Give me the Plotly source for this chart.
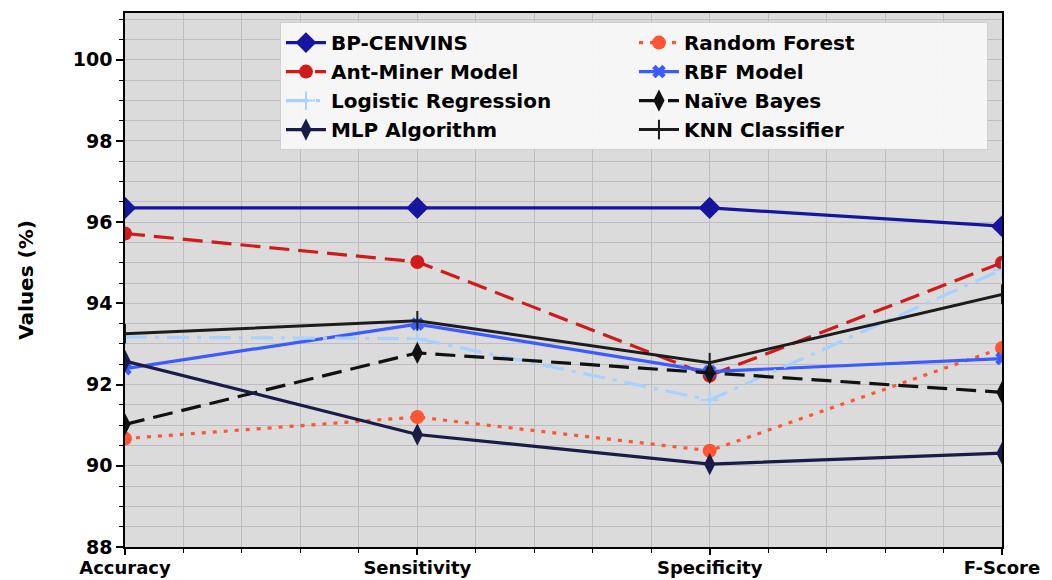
import plotly.graph_objects as go

categories = ["Accuracy", "Sensitivity", "Specificity", "F-Score"]
x_pos = [0, 1, 2, 3]

bp_cenvins = [96.35, 96.35, 96.35, 95.90]
ant_miner = [95.72, 95.02, 92.22, 95.00]
logistic_regression = [93.17, 93.13, 91.62, 94.83]
mlp_algorithm = [92.58, 90.77, 90.04, 90.31]
random_forest = [90.67, 91.20, 90.37, 92.90]
rbf_model = [92.39, 93.49, 92.32, 92.64]
naive_bayes = [91.02, 92.78, 92.29, 91.81]
knn_classifier = [93.25, 93.57, 92.54, 94.22]

FONT = "DejaVu Sans"

fig = go.Figure()

def add(name, y, color, dash, symbol, msize, lw=3.2, mline=None):
    marker = dict(symbol=symbol, size=msize, color=color)
    if mline is not None:
        marker["line"] = dict(color=color, width=mline)
    fig.add_trace(go.Scatter(
        x=x_pos, y=y, name=name, mode="lines+markers",
        line=dict(color=color, width=lw, dash=dash),
        marker=marker,
    ))

# row-major order so that the two-column legend matches the reference
add("BP-CENVINS", bp_cenvins, "#15159f", "solid", "diamond", 17)
add("Random Forest", random_forest, "#ff5533", "4px,7px", "circle", 14)
add("Ant-Miner Model", ant_miner, "#d11a1a", "20px,9px", "circle", 14)
add("RBF Model", rbf_model, "#3a5bff", "solid", "x", 12)
add("Logistic Regression", logistic_regression, "#a9d1ff", "22px,8px,4px,8px", "cross-thin", 13, mline=2)
add("Naïve Bayes", naive_bayes, "#111111", "20px,9px", "diamond-tall", 16)
add("MLP Algorithm", mlp_algorithm, "#1b1b48", "solid", "diamond-tall", 16)
add("KNN Classifier", knn_classifier, "#1c1c1c", "solid", "line-ns", 14, lw=3, mline=2)

grid_col = "#bdbdbd"

fig.update_layout(
    width=1052, height=580,
    margin=dict(l=125, r=50, t=13, b=33),
    paper_bgcolor="white",
    plot_bgcolor="#dbdbdb",
    font=dict(family=FONT, color="black"),
    showlegend=True,
    legend=dict(
        orientation="h",
        x=0.984, y=0.983, xanchor="right", yanchor="top",
        entrywidth=298,
        bgcolor="rgba(248,248,248,0.92)",
        bordercolor="#cfcfcf", borderwidth=1,
        font=dict(family=FONT, size=20, weight="bold", color="black"),
        itemwidth=40,
    ),
    xaxis=dict(
        range=[0, 3], automargin=False,
        tickmode="array", tickvals=x_pos, ticktext=categories,
        tickfont=dict(family=FONT, size=18, weight="bold"),
        ticks="outside", ticklen=6, tickwidth=1.5, tickcolor="black",
        ticklabelstandoff=-2,
        showgrid=True, gridcolor=grid_col, gridwidth=1.3,
        showline=True, linecolor="black", linewidth=1.6, mirror=True,
        zeroline=False,
        minor=dict(dtick=0.2, tick0=0, showgrid=True, gridcolor=grid_col, gridwidth=1.3,
                   ticks="outside", ticklen=4, tickcolor="black", tickwidth=1),
    ),
    yaxis=dict(
        range=[88, 101.15], automargin=False,
        tickmode="linear", tick0=88, dtick=2,
        tickfont=dict(family=FONT, size=19, weight="bold"),
        ticks="outside", ticklen=7, tickwidth=1.5, tickcolor="black",
        showgrid=True, gridcolor=grid_col, gridwidth=1.3,
        showline=True, linecolor="black", linewidth=1.6, mirror=True,
        zeroline=False,
        title=dict(text="Values (%)", font=dict(family=FONT, size=20, weight="bold"), standoff=34),
        minor=dict(dtick=0.5, tick0=88, showgrid=True, gridcolor=grid_col, gridwidth=1.3,
                   ticks="outside", ticklen=4, tickcolor="black", tickwidth=1),
    ),
)

fig.write_html("out.html")
